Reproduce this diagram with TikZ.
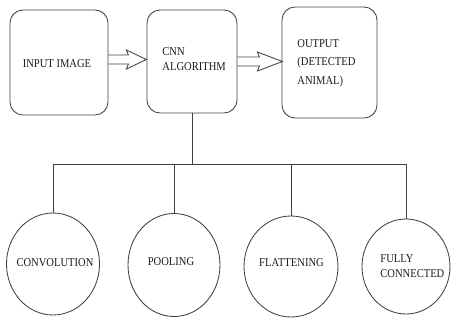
\documentclass[tikz,border=0pt]{standalone}
\usepackage{fontspec}
\setmainfont[FakeStretch=0.88]{Liberation Serif}
\usetikzlibrary{shapes.geometric,calc}
\begin{document}
\begin{tikzpicture}[x=1pt,y=-1pt,
  line width=0.85pt,
  ln/.style={draw=black!75},
  rbox/.style={ln, rectangle, rounded corners=13pt, inner sep=0pt},
  circ/.style={ln, ellipse, inner sep=0pt},
  lbl/.style={font=\fontsize{12}{15}\selectfont, text=black!90, inner sep=0pt},
  dblarrow/.style={ln, line join=miter}]
\useasboundingbox (0,0) rectangle (456,327);
% boxes
\node[rbox, minimum width=98pt, minimum height=105pt] (inbox) at (59,62.5) {};
\node[rbox, minimum width=90pt, minimum height=103pt] (cnnbox) at (192,61.5) {};
\node[rbox, minimum width=95pt, minimum height=111pt] (outbox) at (329.5,62.5) {};
\node[lbl, anchor=center] (inp) at (57,64) {INPUT IMAGE};
\node[lbl, anchor=north west, align=left] (cnn) at (162,47) {CNN\\ALGORITHM};
\node[lbl, anchor=north west, align=left, font=\fontsize{12}{18.5}\selectfont] (out) at (297,39) {OUTPUT\\(DETECTED\\ANIMAL)};
% double arrows
\begin{scope}[shift={(inbox.east)}]
\draw[dblarrow] (0,-7.5) -- (20,-7.5) -- (18,-12.5) -- (38,-3) -- (18,6.5) -- (20,1.5) -- (0,1.5);
\end{scope}
\begin{scope}[shift={(cnnbox.east)}]
\draw[dblarrow] (0,-4.5) -- (22,-4.5) -- (20,-9.5) -- (45,0) -- (20,9.5) -- (22,4.5) -- (0,4.5);
\end{scope}
% circles
\node[circ, minimum width=93pt, minimum height=102pt] (conv) at (53,264) {};
\node[circ, minimum width=92pt, minimum height=103pt] (pool) at (174,265) {};
\node[circ, minimum width=94pt, minimum height=101pt] (flat) at (291,266.5) {};
\node[circ, minimum width=88pt, minimum height=95pt] (fc) at (406,266.5) {};
\node[lbl] (c1) at (55,263) {CONVOLUTION};
\node[lbl] (c2) at (171,261.5) {POOLING};
\node[lbl] (c3) at (291.5,262.5) {FLATTENING};
\node[lbl, anchor=north west, align=left] (c4) at (380,254) {FULLY\\CONNECTED};
% tree
\coordinate (j) at (cnnbox.south |- 0,164);
\draw[ln] (cnnbox.south) -- (j);
\draw[ln] (conv.north |- j) -- (fc.north |- j);
\draw[ln] (conv.north |- j) -- (conv.north);
\draw[ln] (pool.north |- j) -- (pool.north);
\draw[ln] (flat.north |- j) -- (flat.north);
\draw[ln] (fc.north |- j) -- (fc.north);
\end{tikzpicture}
\end{document}
